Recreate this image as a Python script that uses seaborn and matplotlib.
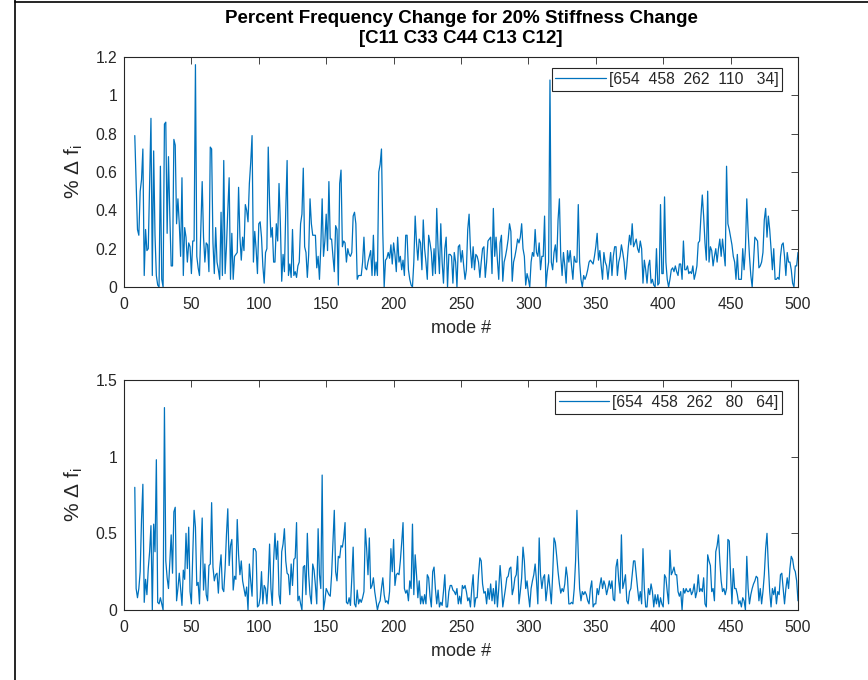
import numpy as np
import pandas as pd
import matplotlib
matplotlib.use("Agg")
import matplotlib.pyplot as plt
from matplotlib.lines import Line2D
from matplotlib.ticker import FuncFormatter
import seaborn as sns

# ---------------- data ----------------
first_mode = 8
last_mode = 500

title_lines = ["Percent Frequency Change for 20% Stiffness Change",
               "[C11 C33 C44 C13 C12]"]
legend_top = "[654  458  262  110   34]"
legend_bottom = "[654  458  262   80   64]"
x_ticks = [0, 50, 100, 150, 200, 250, 300, 350, 400, 450, 500]
y_ticks_top = [0, 0.2, 0.4, 0.6, 0.8, 1.0, 1.2]
y_ticks_bottom = [0, 0.5, 1.0, 1.5]

# top panel, modes 8-130
top_a = [0.79, 0.55, 0.30, 0.27, 0.50, 0.56, 0.72, 0.06, 0.30, 0.19,
         0.20, 0.54, 0.88, 0.06, 0.71, 0.27, 0.06, 0.01, 0.00, 0.63,
         0.04, 0.00, 0.85, 0.86, 0.28, 0.68, 0.37, 0.11, 0.11, 0.77,
         0.74, 0.33, 0.46, 0.33, 0.16, 0.57, 0.06, 0.31, 0.26, 0.13,
         0.23, 0.21, 0.07, 0.24, 0.24, 1.16, 0.16, 0.10, 0.06, 0.30,
         0.55, 0.26, 0.13, 0.23, 0.22, 0.08, 0.73, 0.72, 0.23, 0.07,
         0.31, 0.13, 0.09, 0.04, 0.39, 0.06, 0.66, 0.07, 0.21, 0.40,
         0.57, 0.04, 0.28, 0.04, 0.16, 0.17, 0.18, 0.52, 0.26, 0.14,
         0.26, 0.19, 0.43, 0.40, 0.34, 0.54, 0.65, 0.79, 0.13, 0.29,
         0.20, 0.07, 0.33, 0.34, 0.26, 0.11, 0.02, 0.18, 0.20, 0.73,
         0.44, 0.26, 0.31, 0.13, 0.13, 0.33, 0.24, 0.54, 0.33, 0.03,
         0.17, 0.08, 0.40, 0.66, 0.06, 0.12, 0.05, 0.30, 0.06, 0.08,
         0.05, 0.11, 0.13]
# top panel, modes 131-256
top_b = [0.33, 0.38, 0.62, 0.21, 0.18, 0.05, 0.17, 0.46, 0.33, 0.27,
         0.27, 0.27, 0.10, 0.16, 0.04, 0.21, 0.46, 0.16, 0.24, 0.38,
         0.19, 0.55, 0.25, 0.25, 0.16, 0.08, 0.32, 0.30, 0.01, 0.54,
         0.61, 0.21, 0.24, 0.23, 0.13, 0.20, 0.17, 0.16, 0.18, 0.37,
         0.39, 0.33, 0.04, 0.06, 0.06, 0.06, 0.13, 0.26, 0.10, 0.09,
         0.13, 0.16, 0.19, 0.06, 0.27, 0.06, 0.13, 0.06, 0.60, 0.64,
         0.72, 0.28, 0.00, 0.14, 0.15, 0.18, 0.15, 0.22, 0.12, 0.23,
         0.17, 0.08, 0.26, 0.13, 0.16, 0.09, 0.14, 0.06, 0.27, 0.27,
         0.09, 0.04, 0.01, 0.00, 0.13, 0.37, 0.23, 0.14, 0.25, 0.23,
         0.09, 0.35, 0.20, 0.13, 0.04, 0.27, 0.23, 0.18, 0.06, 0.20,
         0.07, 0.41, 0.20, 0.07, 0.33, 0.13, 0.02, 0.20, 0.26, 0.00,
         0.17, 0.17, 0.16, 0.02, 0.18, 0.13, 0.00, 0.21, 0.22, 0.13,
         0.19, 0.11, 0.04, 0.09, 0.30, 0.38]
# top panel, modes 257-382
top_c = [0.20, 0.10, 0.21, 0.09, 0.17, 0.16, 0.13, 0.05, 0.13, 0.20,
         0.21, 0.05, 0.13, 0.24, 0.25, 0.26, 0.07, 0.41, 0.16, 0.26,
         0.14, 0.04, 0.23, 0.27, 0.03, 0.13, 0.16, 0.20, 0.25, 0.33,
         0.29, 0.03, 0.13, 0.16, 0.20, 0.25, 0.23, 0.26, 0.33, 0.20,
         0.16, 0.01, 0.07, 0.04, 0.00, 0.13, 0.18, 0.16, 0.30, 0.18,
         0.16, 0.23, 0.09, 0.16, 0.16, 0.37, 0.00, 0.08, 0.13, 1.08,
         0.13, 0.09, 0.18, 0.22, 0.13, 0.35, 0.46, 0.16, 0.06, 0.18,
         0.11, 0.02, 0.19, 0.13, 0.19, 0.11, 0.04, 0.16, 0.13, 0.13,
         0.43, 0.13, 0.04, 0.00, 0.06, 0.04, 0.06, 0.09, 0.13, 0.14,
         0.13, 0.12, 0.16, 0.21, 0.28, 0.14, 0.19, 0.11, 0.04, 0.18,
         0.13, 0.11, 0.04, 0.11, 0.18, 0.06, 0.16, 0.21, 0.21, 0.06,
         0.13, 0.16, 0.22, 0.18, 0.13, 0.04, 0.11, 0.20, 0.27, 0.22,
         0.33, 0.21, 0.23, 0.25, 0.20, 0.18]
# top panel, modes 383-500
top_d = [0.24, 0.20, 0.02, 0.14, 0.09, 0.02, 0.11, 0.14, 0.02, 0.04,
         0.01, 0.00, 0.20, 0.01, 0.02, 0.43, 0.07, 0.07, 0.47, 0.13,
         0.04, 0.00, 0.04, 0.09, 0.10, 0.08, 0.11, 0.08, 0.06, 0.12,
         0.12, 0.04, 0.24, 0.09, 0.09, 0.11, 0.07, 0.08, 0.07, 0.11,
         0.04, 0.07, 0.11, 0.23, 0.24, 0.37, 0.48, 0.37, 0.23, 0.14,
         0.50, 0.13, 0.21, 0.19, 0.11, 0.16, 0.20, 0.13, 0.20, 0.25,
         0.16, 0.25, 0.18, 0.11, 0.63, 0.33, 0.30, 0.26, 0.22, 0.16,
         0.13, 0.04, 0.17, 0.04, 0.04, 0.04, 0.20, 0.09, 0.20, 0.46,
         0.29, 0.16, 0.06, 0.00, 0.13, 0.26, 0.25, 0.24, 0.10, 0.11,
         0.13, 0.18, 0.35, 0.41, 0.26, 0.37, 0.30, 0.20, 0.09, 0.20,
         0.04, 0.04, 0.05, 0.04, 0.16, 0.22, 0.23, 0.16, 0.06, 0.18,
         0.13, 0.13, 0.09, 0.02, 0.00, 0.11, 0.11, 0.18]

# bottom panel, modes 8-130
bot_a = [0.80, 0.14, 0.08, 0.14, 0.25, 0.59, 0.82, 0.05, 0.20, 0.10,
         0.27, 0.38, 0.55, 0.00, 0.56, 0.38, 0.98, 0.05, 0.04, 0.08,
         0.04, 0.00, 1.32, 0.32, 0.21, 0.14, 0.32, 0.49, 0.24, 0.64,
         0.67, 0.06, 0.14, 0.24, 0.14, 0.03, 0.26, 0.20, 0.50, 0.27,
         0.54, 0.12, 0.04, 0.36, 0.65, 0.54, 0.16, 0.18, 0.04, 0.35,
         0.60, 0.13, 0.30, 0.10, 0.06, 0.29, 0.30, 0.70, 0.28, 0.19,
         0.23, 0.24, 0.11, 0.27, 0.36, 0.14, 0.12, 0.27, 0.49, 0.66,
         0.29, 0.42, 0.46, 0.13, 0.22, 0.20, 0.59, 0.36, 0.23, 0.32,
         0.19, 0.14, 0.09, 0.15, 0.00, 0.30, 0.19, 0.09, 0.40, 0.40,
         0.38, 0.02, 0.03, 0.08, 0.25, 0.04, 0.16, 0.14, 0.04, 0.19,
         0.43, 0.14, 0.03, 0.32, 0.50, 0.33, 0.45, 0.10, 0.04, 0.38,
         0.43, 0.53, 0.32, 0.24, 0.23, 0.10, 0.30, 0.16, 0.33, 0.34,
         0.57, 0.06, 0.09]
# bottom panel, modes 131-256
bot_b = [0.04, 0.00, 0.28, 0.29, 0.10, 0.50, 0.23, 0.10, 0.04, 0.30,
         0.26, 0.16, 0.04, 0.53, 0.23, 0.14, 0.88, 0.00, 0.06, 0.14,
         0.12, 0.10, 0.09, 0.23, 0.44, 0.65, 0.25, 0.19, 0.35, 0.34,
         0.42, 0.41, 0.47, 0.57, 0.05, 0.04, 0.08, 0.03, 0.21, 0.41,
         0.04, 0.02, 0.13, 0.04, 0.07, 0.05, 0.08, 0.12, 0.53, 0.40,
         0.23, 0.47, 0.14, 0.16, 0.21, 0.12, 0.06, 0.00, 0.04, 0.06,
         0.14, 0.21, 0.10, 0.05, 0.06, 0.04, 0.12, 0.40, 0.25, 0.46,
         0.16, 0.23, 0.24, 0.23, 0.32, 0.44, 0.57, 0.14, 0.11, 0.13,
         0.06, 0.19, 0.14, 0.56, 0.10, 0.36, 0.23, 0.08, 0.19, 0.04,
         0.09, 0.04, 0.10, 0.04, 0.23, 0.21, 0.09, 0.02, 0.25, 0.28,
         0.14, 0.04, 0.13, 0.02, 0.05, 0.03, 0.12, 0.23, 0.02, 0.02,
         0.12, 0.16, 0.16, 0.13, 0.12, 0.10, 0.14, 0.04, 0.09, 0.04,
         0.16, 0.14, 0.16, 0.12, 0.06, 0.08]
# bottom panel, modes 257-382
bot_c = [0.02, 0.14, 0.23, 0.02, 0.08, 0.08, 0.23, 0.34, 0.32, 0.17,
         0.11, 0.12, 0.04, 0.14, 0.07, 0.17, 0.06, 0.14, 0.04, 0.19,
         0.02, 0.14, 0.29, 0.17, 0.02, 0.08, 0.14, 0.21, 0.22, 0.27,
         0.28, 0.10, 0.14, 0.21, 0.23, 0.35, 0.04, 0.12, 0.21, 0.41,
         0.32, 0.14, 0.19, 0.10, 0.02, 0.14, 0.19, 0.23, 0.30, 0.19,
         0.04, 0.47, 0.23, 0.14, 0.21, 0.23, 0.06, 0.14, 0.23, 0.14,
         0.04, 0.23, 0.47, 0.44, 0.35, 0.25, 0.17, 0.11, 0.14, 0.12,
         0.17, 0.28, 0.21, 0.04, 0.04, 0.05, 0.04, 0.14, 0.32, 0.65,
         0.36, 0.14, 0.06, 0.12, 0.10, 0.12, 0.10, 0.06, 0.04, 0.14,
         0.19, 0.02, 0.04, 0.04, 0.14, 0.10, 0.16, 0.21, 0.14, 0.19,
         0.16, 0.10, 0.14, 0.19, 0.14, 0.19, 0.07, 0.06, 0.28, 0.33,
         0.19, 0.11, 0.49, 0.14, 0.18, 0.23, 0.06, 0.04, 0.12, 0.14,
         0.23, 0.32, 0.32, 0.23, 0.14, 0.06]
# bottom panel, modes 383-500
bot_d = [0.12, 0.04, 0.40, 0.14, 0.02, 0.02, 0.14, 0.10, 0.17, 0.12,
         0.02, 0.10, 0.04, 0.10, 0.02, 0.08, 0.04, 0.02, 0.23, 0.21,
         0.12, 0.04, 0.39, 0.23, 0.25, 0.28, 0.23, 0.23, 0.12, 0.09,
         0.12, 0.00, 0.14, 0.11, 0.14, 0.12, 0.12, 0.14, 0.10, 0.12,
         0.17, 0.08, 0.12, 0.23, 0.12, 0.14, 0.12, 0.21, 0.04, 0.02,
         0.36, 0.32, 0.29, 0.12, 0.14, 0.06, 0.38, 0.42, 0.49, 0.32,
         0.19, 0.12, 0.14, 0.10, 0.14, 0.46, 0.45, 0.23, 0.04, 0.27,
         0.14, 0.14, 0.10, 0.04, 0.06, 0.02, 0.08, 0.06, 0.00, 0.35,
         0.14, 0.04, 0.10, 0.14, 0.17, 0.19, 0.22, 0.21, 0.06, 0.14,
         0.04, 0.12, 0.23, 0.40, 0.50, 0.29, 0.12, 0.02, 0.14, 0.10,
         0.15, 0.04, 0.12, 0.10, 0.23, 0.24, 0.14, 0.04, 0.14, 0.21,
         0.14, 0.27, 0.35, 0.33, 0.27, 0.25, 0.19, 0.06]

top_vals = top_a + top_b + top_c + top_d
bot_vals = bot_a + bot_b + bot_c + bot_d
modes = np.arange(first_mode, last_mode + 1)
assert len(top_vals) == len(modes), len(top_vals)
assert len(bot_vals) == len(modes), len(bot_vals)

df_top = pd.DataFrame({"mode": modes, "df": top_vals})
df_bot = pd.DataFrame({"mode": modes, "df": bot_vals})

# ---------------- style ----------------
sns.set_theme(style="white")
plt.rcParams["font.family"] = ["Liberation Sans", "DejaVu Sans"]
plt.rcParams["mathtext.fontset"] = "custom"
plt.rcParams["mathtext.rm"] = "Liberation Sans"

LINE = "#0072BD"
AX = "#262626"

fig = plt.figure(figsize=(8.68, 6.8), dpi=100)
W, H = 868.0, 680.0
ax_top = fig.add_axes([124 / W, 1 - 287 / H, 674 / W, 230 / H])
ax_bot = fig.add_axes([124 / W, 1 - 610 / H, 674 / W, 230 / H])

# outer figure frame (left and top edges visible in reference)
fig.add_artist(Line2D([15 / W, 15 / W], [0, 1], color="black", lw=1.2,
                      transform=fig.transFigure))
fig.add_artist(Line2D([15 / W, 1], [1 - 1.5 / H, 1 - 1.5 / H], color="black",
                      lw=1.2, transform=fig.transFigure))


def style_axes(ax, yticks, ylim, leg_text):
    ax.set_xlim(0, 500)
    ax.set_ylim(*ylim)
    ax.set_xticks(x_ticks)
    ax.set_yticks(yticks)
    ax.yaxis.set_major_formatter(FuncFormatter(lambda v, p: "%g" % v))
    ax.tick_params(direction="in", length=5, width=0.6, colors=AX,
                   labelsize=11.3, top=True, right=True, pad=5,
                   labelcolor=AX)
    ax.tick_params(axis="x", pad=7)
    for s in ax.spines.values():
        s.set_visible(True)
        s.set_color(AX)
        s.set_linewidth(0.8)
    ax.set_xlabel("mode #", fontsize=13, color=AX, labelpad=6)
    ax.set_ylabel("% Δ f$_{\\mathrm{i}}$", fontsize=15, color=AX, labelpad=7)
    leg = ax.legend([leg_text], loc="upper right",
                    bbox_to_anchor=(0.977, 0.952), borderaxespad=0,
                    fancybox=False, framealpha=1, edgecolor=AX,
                    fontsize=11.3, handlelength=3.2, handletextpad=0.2,
                    borderpad=0.25)
    leg.get_frame().set_linewidth(0.8)
    for t in leg.get_texts():
        t.set_color(AX)


sns.lineplot(data=df_top, x="mode", y="df", ax=ax_top, color=LINE,
             linewidth=0.9)
style_axes(ax_top, y_ticks_top, (0, 1.2), legend_top)

sns.lineplot(data=df_bot, x="mode", y="df", ax=ax_bot, color=LINE,
             linewidth=0.9)
style_axes(ax_bot, y_ticks_bottom, (0, 1.5), legend_bottom)

ax_top.set_title("\n".join(title_lines), fontsize=13.5, fontweight="bold",
                 color="black", pad=10, linespacing=1.25)

fig.savefig("out.png", dpi=100)
